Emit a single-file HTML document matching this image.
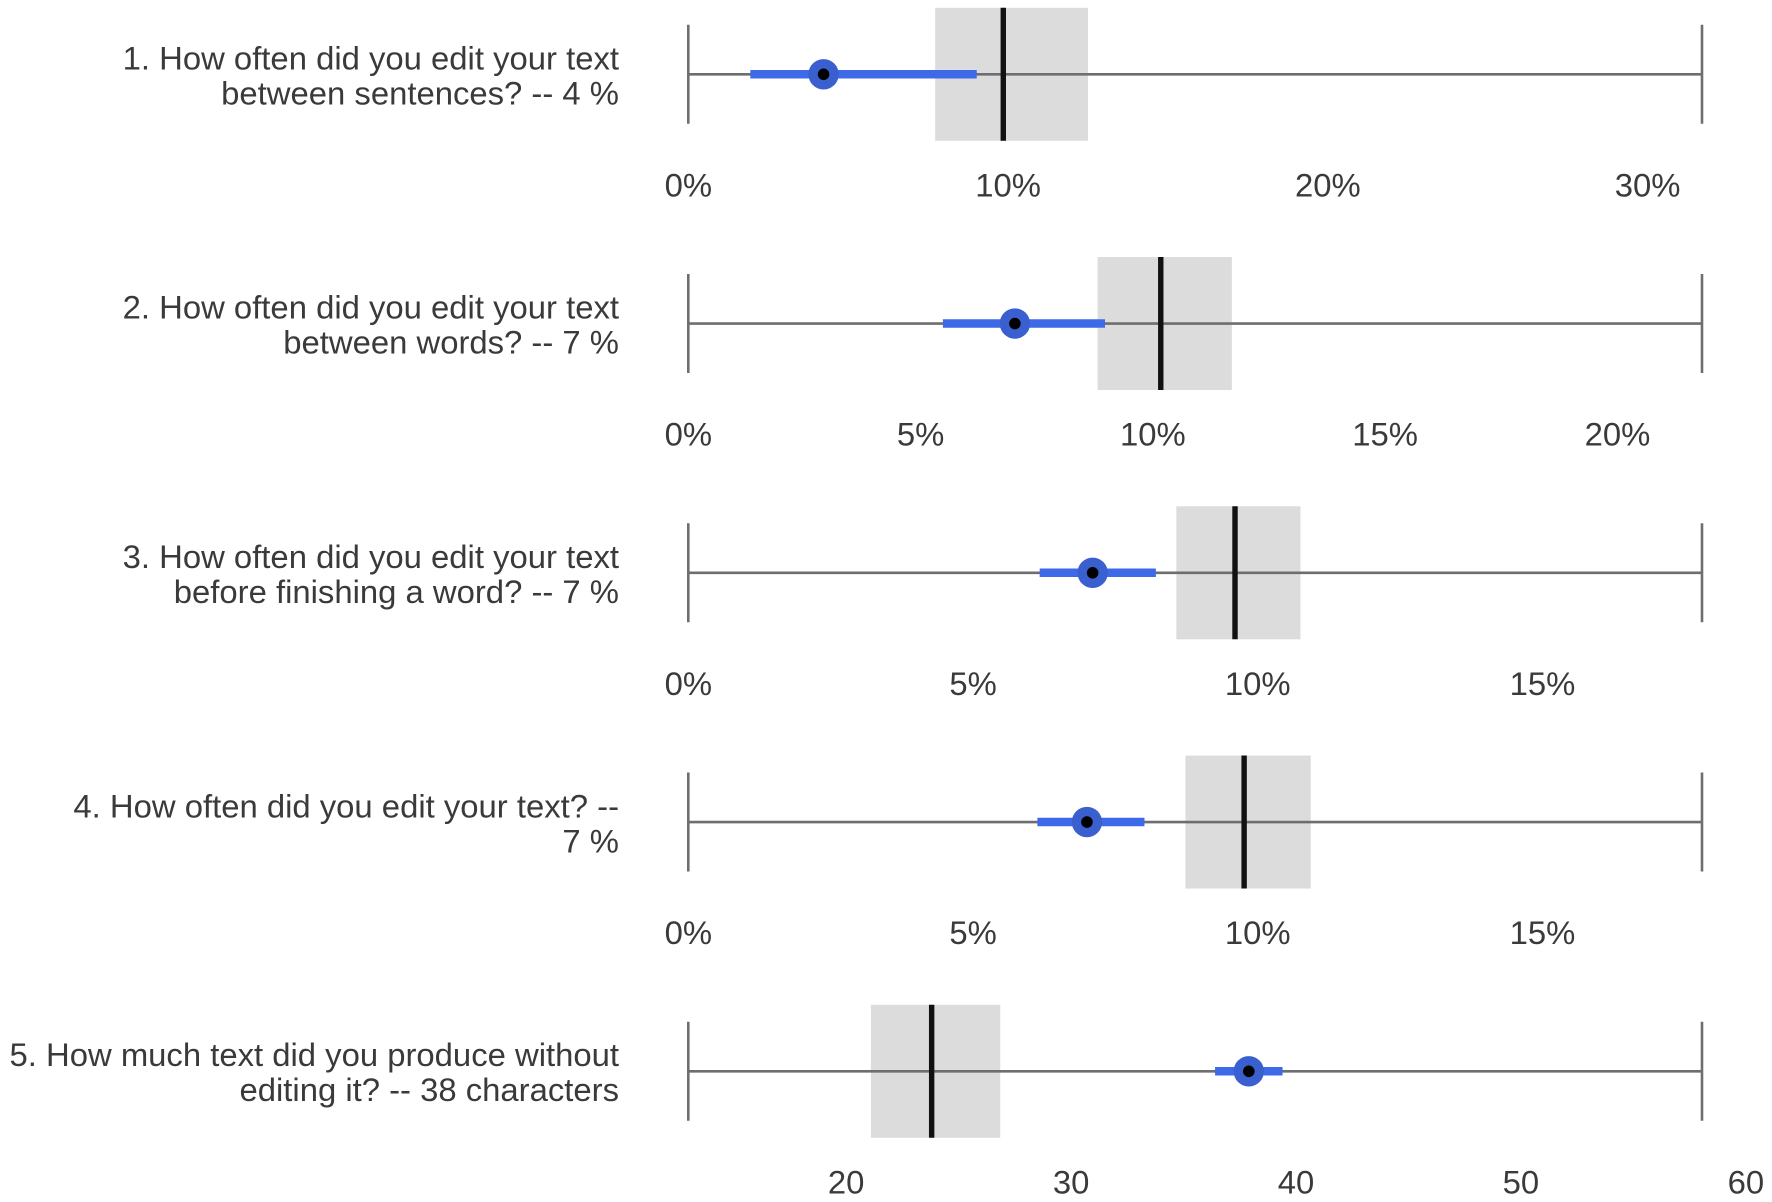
<!DOCTYPE html>
<html lang="en">
<head>
<meta charset="utf-8">
<title>Editing behaviour compared to other participants</title>
<style>
  html, body { margin: 0; padding: 0; background: #ffffff; }
  body { width: 1772px; height: 1202px; overflow: hidden; }
  svg { display: block; }
  text { font-family: "Liberation Sans", Arial, sans-serif; font-size: 32.85px; fill: #3a3a3a; }
  .question { text-anchor: end; }
  .tick-label { text-anchor: middle; }
</style>
</head>
<body>
<svg id="chart" width="1772" height="1202" viewBox="0 0 1772 1202" xmlns="http://www.w3.org/2000/svg">
  <g>
    <text class="question" x="619" y="69.5">1. How often did you edit your text</text>
    <text class="question" x="619" y="104.5">between sentences? -- 4 %</text>
    <text class="question" x="619" y="318.5">2. How often did you edit your text</text>
    <text class="question" x="619" y="353.5">between words? -- 7 %</text>
    <text class="question" x="619" y="568">3. How often did you edit your text</text>
    <text class="question" x="619" y="603">before finishing a word? -- 7 %</text>
    <text class="question" x="619" y="817.5">4. How often did you edit your text? --</text>
    <text class="question" x="619" y="852.5">7 %</text>
    <text class="question" x="619" y="1066">5. How much text did you produce without</text>
    <text class="question" x="619" y="1101">editing it? -- 38 characters</text>
  </g>
</svg>
<script>
// Chart data, one entry per question panel
const panelNames = ['sentences', 'words', 'before-word', 'overall', 'characters'];
const axisMin = [0, 0, 0, 0, 12.98];
const axisMax = [31.7, 21.82, 17.8, 17.8, 58.05];
const tickValues = [
  [0, 10, 20, 30],
  [0, 5, 10, 15, 20],
  [0, 5, 10, 15],
  [0, 5, 10, 15],
  [20, 30, 40, 50, 60]
];
const tickLabels = [
  ['0%', '10%', '20%', '30%'],
  ['0%', '5%', '10%', '15%', '20%'],
  ['0%', '5%', '10%', '15%'],
  ['0%', '5%', '10%', '15%'],
  ['20', '30', '40', '50', '60']
];
const userValue = [4.23, 7.03, 7.1, 7.0, 37.9];
const userLow = [1.94, 5.48, 6.17, 6.13, 36.4];
const userHigh = [9.02, 8.97, 8.21, 8.01, 39.4];
const groupMean = [9.85, 10.17, 9.6, 9.76, 23.8];
const groupLow = [7.72, 8.81, 8.57, 8.73, 21.1];
const groupHigh = [12.5, 11.7, 10.75, 10.93, 26.85];

const SVG_NS = 'http://www.w3.org/2000/svg';
const chart = document.getElementById('chart');
const plotLeft = 688.3;
const plotRight = 1702;
const firstCenter = 74.3;
const panelStep = 249.25;
const tickLabelOffset = 122;

function xScale(panel, value) {
  const span = axisMax[panel] - axisMin[panel];
  return plotLeft + (value - axisMin[panel]) / span * (plotRight - plotLeft);
}
function yCenter(panel) {
  return firstCenter + panel * panelStep;
}
function make(tag, attrs, parent) {
  const node = document.createElementNS(SVG_NS, tag);
  Object.keys(attrs).forEach(function (key) { node.setAttribute(key, attrs[key]); });
  parent.appendChild(node);
  return node;
}

panelNames.forEach(function (name, i) {
  const cy = yCenter(i);
  const group = make('g', {}, chart);
  
  

  const band = make('rect', {
    x: xScale(i, groupLow[i]), y: cy - 66.5,
    width: xScale(i, groupHigh[i]) - xScale(i, groupLow[i]), height: 133,
    fill: '#dcdcdc'
  }, group);
  
  

  const axisLine = make('line', {
    x1: plotLeft, x2: plotRight, y1: cy, y2: cy,
    stroke: '#6e6e6e', 'stroke-width': 2.6
  }, group);
  
  

  const capLeft = make('line', {
    x1: plotLeft, x2: plotLeft, y1: cy - 49.5, y2: cy + 49.5,
    stroke: '#6e6e6e', 'stroke-width': 2.6
  }, group);
  
  

  const capRight = make('line', {
    x1: plotRight, x2: plotRight, y1: cy - 49.5, y2: cy + 49.5,
    stroke: '#6e6e6e', 'stroke-width': 2.6
  }, group);
  
  

  const meanLine = make('line', {
    x1: xScale(i, groupMean[i]), x2: xScale(i, groupMean[i]), y1: cy - 66.5, y2: cy + 66.5,
    stroke: '#111111', 'stroke-width': 5.4
  }, group);
  
  

  const interval = make('line', {
    x1: xScale(i, userLow[i]), x2: xScale(i, userHigh[i]), y1: cy, y2: cy,
    stroke: '#3e69e8', 'stroke-width': 8.5
  }, group);
  
  

  const outer = make('circle', {
    cx: xScale(i, userValue[i]), cy: cy, r: 15.2, fill: '#3a60cf'
  }, group);
  
  

  const inner = make('circle', {
    cx: xScale(i, userValue[i]), cy: cy, r: 5.8, fill: '#000000'
  }, group);
  
  

  tickValues[i].forEach(function (value, t) {
    const label = make('text', {
      'class': 'tick-label', x: xScale(i, value), y: cy + tickLabelOffset
    }, group);
    label.textContent = tickLabels[i][t];
    
    
  });
});
</script>
</body>
</html>
